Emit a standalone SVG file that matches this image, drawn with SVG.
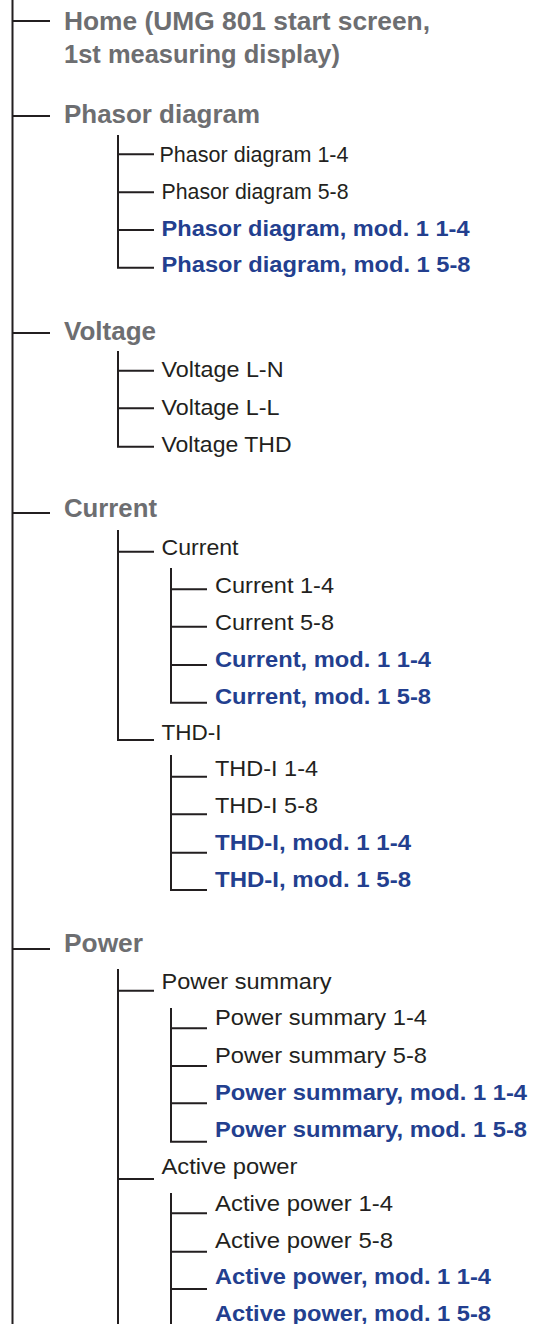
<svg xmlns="http://www.w3.org/2000/svg" width="535" height="1324" viewBox="0 0 535 1324">
<style>
text{font-family:"Liberation Sans",Arial,Helvetica,sans-serif;}
.h{font-size:25px;font-weight:bold;fill:#6d6e71;}
.r{font-size:22.5px;fill:#231f20;}
.b{font-size:22.5px;font-weight:bold;fill:#233f8f;}
.c{fill:none;stroke:#231f20;stroke-width:2;}
</style>
<rect width="535" height="1324" fill="#ffffff"/>
<g id="connectors" class="c">
<path d="M12.5 0V1324"/>
<path d="M12.5 21H50M12.5 116H50M12.5 333H50M12.5 513H50M12.5 949H50"/>
<path d="M118 135V267.7H154M118 154.3H154M118 192.3H154M118 230H154"/>
<path d="M118 351V446.7H154M118 370.7H154M118 408.3H154"/>
<path d="M118 530V740H154M118 551.7H154"/>
<path d="M171 568V702.7H207M171 589.3H207M171 626.7H207M171 665H207"/>
<path d="M171 755V890H207M171 776.7H207M171 814.3H207M171 852.7H207"/>
<path d="M118 969V1324M118 990.7H154M118 1179H154"/>
<path d="M171 1008V1141.7H207M171 1028.3H207M171 1066H207M171 1103.3H207"/>
<path d="M171 1193V1324M171 1213.3H207M171 1251.7H207M171 1289H207"/>
</g>
<g id="home"><text class="h" x="64" y="30" textLength="366" lengthAdjust="spacingAndGlyphs">Home (UMG 801 start screen,</text><text class="h" x="64" y="63" textLength="276" lengthAdjust="spacingAndGlyphs">1st measuring display)</text></g>
<g id="phasor"><text class="h" x="64" y="123" textLength="196" lengthAdjust="spacingAndGlyphs">Phasor diagram</text></g>
<g id="phasor-1-4"><text class="r" x="159.5" y="162" textLength="189" lengthAdjust="spacingAndGlyphs">Phasor diagram 1-4</text></g>
<g id="phasor-5-8"><text class="r" x="161.5" y="199" textLength="187" lengthAdjust="spacingAndGlyphs">Phasor diagram 5-8</text></g>
<g id="phasor-mod-1-4"><text class="b" x="161.5" y="235.5" textLength="308" lengthAdjust="spacingAndGlyphs">Phasor diagram, mod. 1 1-4</text></g>
<g id="phasor-mod-5-8"><text class="b" x="161.5" y="272" textLength="309" lengthAdjust="spacingAndGlyphs">Phasor diagram, mod. 1 5-8</text></g>
<g id="voltage"><text class="h" x="64" y="340" textLength="92" lengthAdjust="spacingAndGlyphs">Voltage</text></g>
<g id="voltage-ln"><text class="r" x="161.5" y="377" textLength="122" lengthAdjust="spacingAndGlyphs">Voltage L-N</text></g>
<g id="voltage-ll"><text class="r" x="161.5" y="415" textLength="118" lengthAdjust="spacingAndGlyphs">Voltage L-L</text></g>
<g id="voltage-thd"><text class="r" x="161.5" y="452" textLength="130" lengthAdjust="spacingAndGlyphs">Voltage THD</text></g>
<g id="current"><text class="h" x="64" y="517" textLength="93" lengthAdjust="spacingAndGlyphs">Current</text></g>
<g id="current-sub"><text class="r" x="161.5" y="555" textLength="77" lengthAdjust="spacingAndGlyphs">Current</text></g>
<g id="current-1-4"><text class="r" x="215" y="593" textLength="119" lengthAdjust="spacingAndGlyphs">Current 1-4</text></g>
<g id="current-5-8"><text class="r" x="215" y="630" textLength="119" lengthAdjust="spacingAndGlyphs">Current 5-8</text></g>
<g id="current-mod-1-4"><text class="b" x="215" y="667" textLength="216" lengthAdjust="spacingAndGlyphs">Current, mod. 1 1-4</text></g>
<g id="current-mod-5-8"><text class="b" x="215" y="703.5" textLength="216" lengthAdjust="spacingAndGlyphs">Current, mod. 1 5-8</text></g>
<g id="thdi"><text class="r" x="161.5" y="739.5" textLength="60" lengthAdjust="spacingAndGlyphs">THD-I</text></g>
<g id="thdi-1-4"><text class="r" x="215" y="776" textLength="103" lengthAdjust="spacingAndGlyphs">THD-I 1-4</text></g>
<g id="thdi-5-8"><text class="r" x="215" y="813" textLength="103" lengthAdjust="spacingAndGlyphs">THD-I 5-8</text></g>
<g id="thdi-mod-1-4"><text class="b" x="215" y="850" textLength="196" lengthAdjust="spacingAndGlyphs">THD-I, mod. 1 1-4</text></g>
<g id="thdi-mod-5-8"><text class="b" x="215" y="887" textLength="196" lengthAdjust="spacingAndGlyphs">THD-I, mod. 1 5-8</text></g>
<g id="power"><text class="h" x="64" y="952" textLength="79" lengthAdjust="spacingAndGlyphs">Power</text></g>
<g id="power-summary"><text class="r" x="161.5" y="988.5" textLength="170" lengthAdjust="spacingAndGlyphs">Power summary</text></g>
<g id="power-summary-1-4"><text class="r" x="215" y="1025" textLength="212" lengthAdjust="spacingAndGlyphs">Power summary 1-4</text></g>
<g id="power-summary-5-8"><text class="r" x="215" y="1062.5" textLength="212" lengthAdjust="spacingAndGlyphs">Power summary 5-8</text></g>
<g id="power-summary-mod-1-4"><text class="b" x="215" y="1099.5" textLength="312" lengthAdjust="spacingAndGlyphs">Power summary, mod. 1 1-4</text></g>
<g id="power-summary-mod-5-8"><text class="b" x="215" y="1136.5" textLength="312" lengthAdjust="spacingAndGlyphs">Power summary, mod. 1 5-8</text></g>
<g id="active-power"><text class="r" x="161.5" y="1173.5" textLength="136" lengthAdjust="spacingAndGlyphs">Active power</text></g>
<g id="active-power-1-4"><text class="r" x="215" y="1210.5" textLength="178" lengthAdjust="spacingAndGlyphs">Active power 1-4</text></g>
<g id="active-power-5-8"><text class="r" x="215" y="1247.5" textLength="178" lengthAdjust="spacingAndGlyphs">Active power 5-8</text></g>
<g id="active-power-mod-1-4"><text class="b" x="215" y="1284" textLength="276" lengthAdjust="spacingAndGlyphs">Active power, mod. 1 1-4</text></g>
<g id="active-power-mod-5-8"><text class="b" x="215" y="1320.5" textLength="276" lengthAdjust="spacingAndGlyphs">Active power, mod. 1 5-8</text></g>
</svg>
